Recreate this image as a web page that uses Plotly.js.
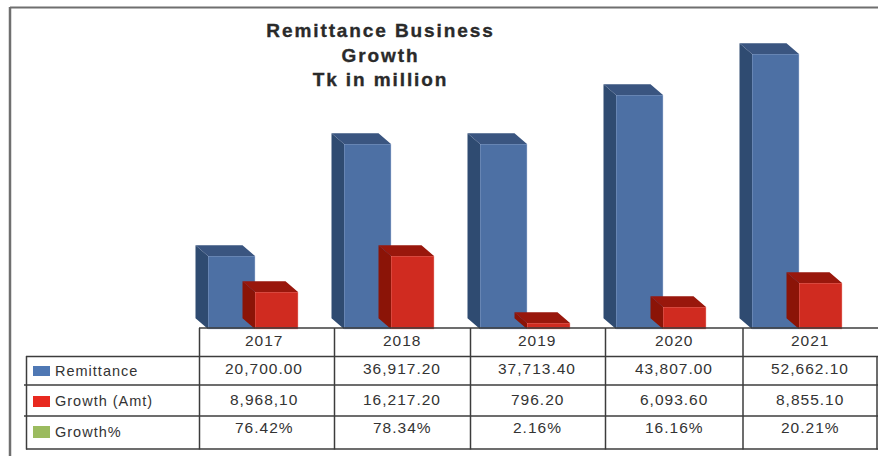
<!DOCTYPE html>
<html>
<head>
<meta charset="utf-8">
<script src="https://cdn.plot.ly/plotly-3.0.1.min.js"></script>
<style>
html,body{margin:0;padding:0;background:#fff;overflow:hidden}
#chart{width:878px;height:456px}
.annotation-text{letter-spacing:1px}
.gtitle{letter-spacing:1.9px;stroke:#2a2a2a;stroke-width:.35px}
</style>
</head>
<body>
<div id="chart"></div>
<script>
// Data
var years = [2017, 2018, 2019, 2020, 2021];
var seriesNames = ['Remittance', 'Growth (Amt)', 'Growth%'];
// Bar heights as drawn in the picture (the bars do not follow the printed table exactly)
var remittanceBars = [14600, 37000, 37000, 46800, 55000];
var growthBars = [7400, 14600, 1200, 4400, 9200];
// Printed table, as in the picture
var remittanceText = ['20,700.00', '36,917.20', '37,713.40', '43,807.00', '52,662.10'];
var growthAmtText = ['8,968,10', '16,217.20', '796.20', '6,093.60', '8,855.10'];
var growthPctText = ['76.42%', '78.34%', '2.16%', '16.16%', '20.21%'];

var W = 878, H = 456;
function px(x){return x / W;}
function py(y){return 1 - y / H;}

// Scales: one year = 136 px, 200 units = 1 px, baseline at pixel row 329
var xRange = [2017 - 267 / 136, 2017 + (W - 267) / 136];
var yRange = [-(H - 329) * 200, 329 * 200];
var depthX = 12.5 / 136, depthY = 2150;

function faces(values, offset, width){
  var side = {x: [], y: []}, top = {x: [], y: []};
  values.forEach(function(v, i){
    var l = years[i] + offset, r = l + width;
    side.x.push(l, l - depthX, l - depthX, l, l, null);
    side.y.push(0, depthY, v + depthY, v, 0, null);
    top.x.push(l, l - depthX, r - depthX, r, l, null);
    top.y.push(v, v + depthY, v + depthY, v, v, null);
  });
  return {side: side, top: top};
}
function polyTrace(p, color, name){
  return {type: 'scatter', mode: 'lines', x: p.x, y: p.y, fill: 'toself', fillcolor: color,
    line: {width: 0, color: color}, hoverinfo: 'skip', showlegend: false, name: name};
}
var blueOffset = -59 / 136, blueWidth = 47 / 136;
var redOffset = -12 / 136, redWidth = 43 / 136;
var blueF = faces(remittanceBars, blueOffset, blueWidth);
var redF = faces(growthBars, redOffset, redWidth);

var traces = [
  {type: 'bar', name: seriesNames[0], x: years, y: remittanceBars, offset: blueOffset, width: blueWidth,
   marker: {color: '#4d70a4', line: {color: 'rgba(190,205,230,.8)', width: 0.6}}, showlegend: false},
  {type: 'bar', name: seriesNames[1], x: years, y: growthBars, offset: redOffset, width: redWidth,
   marker: {color: '#d02b20', line: {color: 'rgba(240,170,160,.8)', width: 0.6}}, showlegend: false},
  polyTrace(blueF.side, '#2f4b71', 'Remittance side'),
  polyTrace(blueF.top, '#3a5580', 'Remittance top'),
  polyTrace(redF.side, '#8b1407', 'Growth side'),
  polyTrace(redF.top, '#99170c', 'Growth top')
];

// Table grid
var shapes = [];
function line(x0, y0, x1, y1, color, w){
  shapes.push({type: 'line', xref: 'paper', yref: 'paper', x0: px(x0), y0: py(y0), x1: px(x1), y1: py(y1),
    line: {color: color, width: w}});
}
line(10, 7.5, W, 7.5, '#6f6f6f', 2);
line(10, 7, 10, H, '#6f6f6f', 2.5);
var colX = [199.5, 334.5, 470.5, 605.5, 743];
line(199, 328, W, 328, '#3c3c3c', 1.5);
line(26, 356.5, W, 356.5, '#3c3c3c', 1.5);
line(24, 385, W, 385, '#3c3c3c', 1.5);
line(24, 416, W, 416, '#3c3c3c', 1.5);
line(26, 449, W, 449, '#3c3c3c', 1.5);
line(26.5, 356, 26.5, 449.5, '#3c3c3c', 1.5);
colX.forEach(function(x){ line(x, 328, x, 449.5, '#3c3c3c', 1.5); });
line(877, 356, 877, 449.5, '#3c3c3c', 1.5);

// Legend swatches
function swatch(x0, y0, x1, y1, c){
  shapes.push({type: 'rect', xref: 'paper', yref: 'paper', x0: px(x0), y0: py(y0), x1: px(x1), y1: py(y1),
    fillcolor: c, line: {width: 0}});
}
swatch(33, 366, 50, 376, '#4f78b4');
swatch(33, 396, 50, 407, '#e8291f');
swatch(33, 426, 50, 438, '#9bbb5f');

var annotations = [];
function label(t, x, y, anchor, size){
  annotations.push({text: t, xref: 'paper', yref: 'paper', x: px(x), y: py(y), xanchor: anchor, yanchor: 'middle',
    showarrow: false, align: anchor, font: {family: 'Liberation Sans, Arial, sans-serif', size: size, color: '#333'}});
}
var colCenters = [264, 402, 537, 674, 810];
years.forEach(function(yr, i){
  label(String(yr), colCenters[i], 340, 'center', 15.5);
  label(remittanceText[i], colCenters[i], 368, 'center', 15.5);
  label(growthAmtText[i], colCenters[i], 399, 'center', 15.5);
  label(growthPctText[i], colCenters[i], 427, 'center', 15.5);
});
label(seriesNames[0], 53, 371, 'left', 14.5);
label(seriesNames[1], 53, 401, 'left', 14.5);
label(seriesNames[2], 53, 432, 'left', 14.5);

var layout = {
  width: W, height: H,
  margin: {l: 0, r: 0, t: 0, b: 0, pad: 0},
  paper_bgcolor: '#fff', plot_bgcolor: '#fff',
  showlegend: false, barmode: 'overlay',
  title: {text: 'Remittance Business<br>Growth<br>Tk in million', x: px(380.5), xanchor: 'center',
    y: py(37), yanchor: 'top', xref: 'paper', yref: 'paper',
    font: {family: 'Liberation Sans, Arial, sans-serif', size: 19, weight: 700, color: '#2a2a2a'}},
  xaxis: {visible: false, range: xRange, domain: [0, 1], fixedrange: true},
  yaxis: {visible: false, range: yRange, domain: [0, 1], fixedrange: true},
  shapes: shapes,
  annotations: annotations
};
Plotly.newPlot('chart', traces, layout, {displayModeBar: false, staticPlot: true});
</script>
</body>
</html>
